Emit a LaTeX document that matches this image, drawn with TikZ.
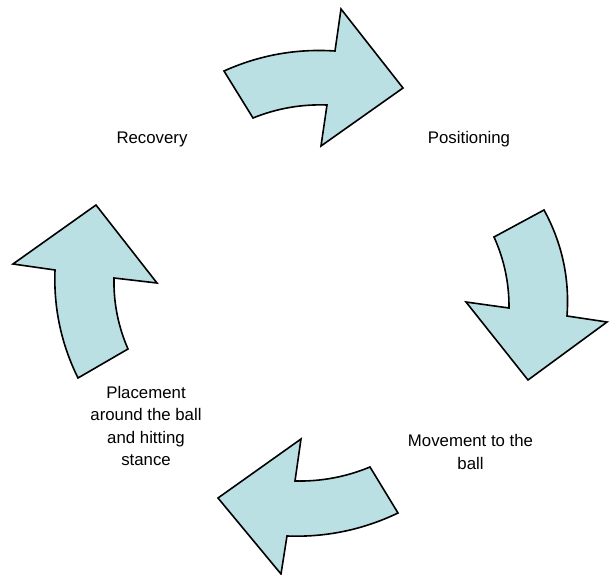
\documentclass[tikz,border=0pt]{standalone}
\usepackage{fontspec}
\usetikzlibrary{calc}
\setmainfont{Liberation Sans}
\definecolor{arrowfill}{RGB}{187,224,227}
\begin{document}
\begin{tikzpicture}[x=1pt,y=-1pt,
  cyclearrow/.style={draw=black,fill=arrowfill,line width=1.6pt,line join=miter},
  lbl/.style={align=center,inner sep=0pt,font=\fontsize{16.8}{22.6}\selectfont}]
\useasboundingbox (0,0) rectangle (616,575);
% top arrow
\path[cyclearrow] (224,71) .. controls ($(224,71)!2/3!(277,47.2)$) and ($(335,51)!2/3!(277,47.2)$) .. (335,51) -- (341,9) -- (403,88) -- (321,146) -- (327,105) .. controls ($(327,105)!2/3!(288.6,103.6)$) and ($(253,118)!2/3!(288.6,103.6)$) .. (253,118) -- cycle;
% right arrow
\path[cyclearrow] (544,210) .. controls ($(544,210)!2/3!(571.1,259.6)$) and ($(567,316)!2/3!(571.1,259.6)$) .. (567,316) -- (607,322) -- (528,380) -- (466,302) -- (509,308) .. controls ($(509,308)!2/3!(509.3,270.8)$) and ($(494,237)!2/3!(509.3,270.8)$) .. (494,237) -- cycle;
% bottom arrow
\path[cyclearrow] (398,513) .. controls ($(398,513)!2/3!(345.3,538.2)$) and ($(287,536)!2/3!(345.3,538.2)$) .. (287,536) -- (281,574) -- (218,498) -- (301,439) -- (295,481) .. controls ($(295,481)!2/3!(334,481.9)$) and ($(370,467)!2/3!(334,481.9)$) .. (370,467) -- cycle;
% left arrow
\path[cyclearrow] (78,378) .. controls ($(78,378)!2/3!(52.8,326.9)$) and ($(55,270)!2/3!(52.8,326.9)$) .. (55,270) -- (13,264) -- (96,205) -- (157,283) -- (114,278) .. controls ($(114,278)!2/3!(113.2,315)$) and ($(128,349)!2/3!(113.2,315)$) .. (128,349) -- cycle;
% labels
\node[lbl] (rec) at (152,139) {Recovery};
\node[lbl] (pos) at (469,139) {Positioning};
\node[lbl] (mov) at (470.5,452) {Movement to the\\ball};
\node[lbl] (pla) at (146,426) {Placement\\around the ball\\and hitting\\stance};
\end{tikzpicture}
\end{document}
